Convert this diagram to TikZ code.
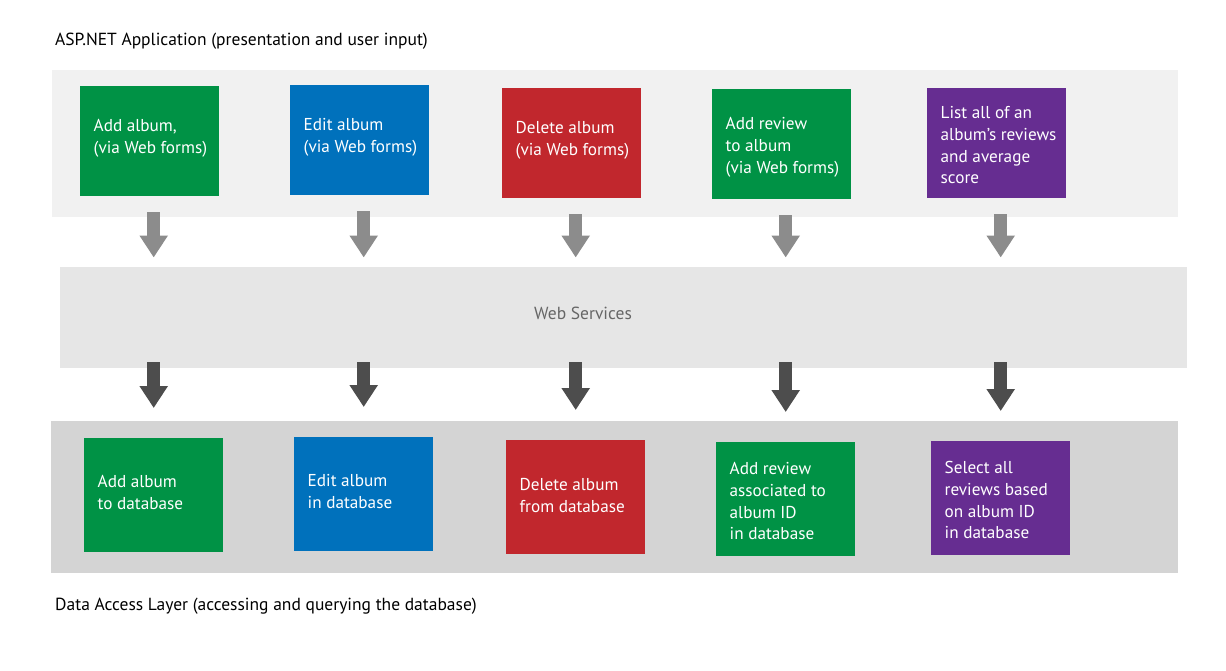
\documentclass[tikz,border=0pt]{standalone}
\usepackage{fontspec}
\setmainfont{PT Sans}
\usetikzlibrary{arrows.meta}
\usetikzlibrary{positioning}
\definecolor{boxgreen}{RGB}{0,146,69}
\definecolor{boxblue}{RGB}{0,113,188}
\definecolor{boxred}{RGB}{193,39,45}
\definecolor{boxpurple}{RGB}{102,45,145}
\definecolor{bandtop}{RGB}{241,241,241}
\definecolor{bandmid}{RGB}{230,230,230}
\definecolor{bandlow}{RGB}{212,212,212}
\definecolor{arrowlight}{RGB}{140,140,140}
\definecolor{arrowdark}{RGB}{77,77,77}

\begin{document}
\begin{tikzpicture}[%
  x=1pt, y=-1pt,
  band/.style={fill=#1, inner sep=0pt, anchor=north west},
  opbox/.style={fill=#1, anchor=north west, inner sep=0pt, minimum width=139pt},
  optext/.style={text=white, inner sep=0pt, align=left,
    font=\fontsize{17.2}{21.7}\selectfont},
  caption/.style={anchor=west, inner sep=0pt, font=\fontsize{17.5}{21}\selectfont},
  down arrow/.style={draw=#1, line width=13pt, -{Triangle[width=27pt,length=22pt]}}
  ]
  \useasboundingbox (0,0) rectangle (1226,670);

  % Draw the three layer bands
  \node[band=bandtop, minimum width=1126pt, minimum height=147pt] (app) at (52,70) {};
  \node[band=bandmid, minimum width=1127pt, minimum height=101pt] (ws) at (60,267) {};
  \node[band=bandlow, minimum width=1127pt, minimum height=152pt] (dal) at (51,421) {};

  % Annotate the layers
  \node[caption] (app-label) at (55,41) {ASP.NET Application (presentation and user input)};
  \node[font=\fontsize{17.5}{21}\selectfont, text=black!60] (ws-label) at (583,313) {Web Services};
  \node[caption] (dal-label) at (55,606) {Data Access Layer (accessing and querying the database)};

  % Draw the operation boxes of both layers
  \foreach \i/\tx/\ty/\ts/\bx/\by/\bs/\col/\toptext/\lowtext in {%
    1/80/86/3/84/438/3/boxgreen/{Add album,\\(via Web forms)}/{Add album\\to database},
    2/290/85/3/294/437/3/boxblue/{Edit album\\(via Web forms)}/{Edit album\\in database},
    3/502/88/3/506/440/2/boxred/{Delete album\\(via Web forms)}/{Delete album\\from database},
    4/712/89/-3/716/442/-2/boxgreen/{Add review\\to album\\(via Web forms)}/{Add review\\associated to\\album ID\\in database},
    5/927/88/-2/931/441/-2/boxpurple/{List all of an\\album's reviews\\and average\\score}/{Select all\\reviews based\\on album ID\\in database}}
  {
    \node[opbox=\col, minimum height=110pt] (T-\i) at (\tx,\ty) {};
    \node[optext, right=13.5pt of T-\i.west, yshift=\ts pt] (T-\i-text) {\toptext};
    \node[opbox=\col, minimum height=114pt] (B-\i) at (\bx,\by) {};
    \node[optext, right=13.5pt of B-\i.west, yshift=\bs pt] (B-\i-text) {\lowtext};
  }

  % Connect every box to the web services and on to the database
  \foreach \i in {1,...,5}
  {
    \draw[down arrow=arrowlight, shorten <=16pt, shorten >=9.5pt]
      (B-\i.north |- T-\i.south) -- (B-\i.north |- ws.north);
    \draw[down arrow=arrowdark, shorten <=-6pt, shorten >=30pt]
      (B-\i.north |- ws.south) -- (B-\i.north);
  }
\end{tikzpicture}
\end{document}
